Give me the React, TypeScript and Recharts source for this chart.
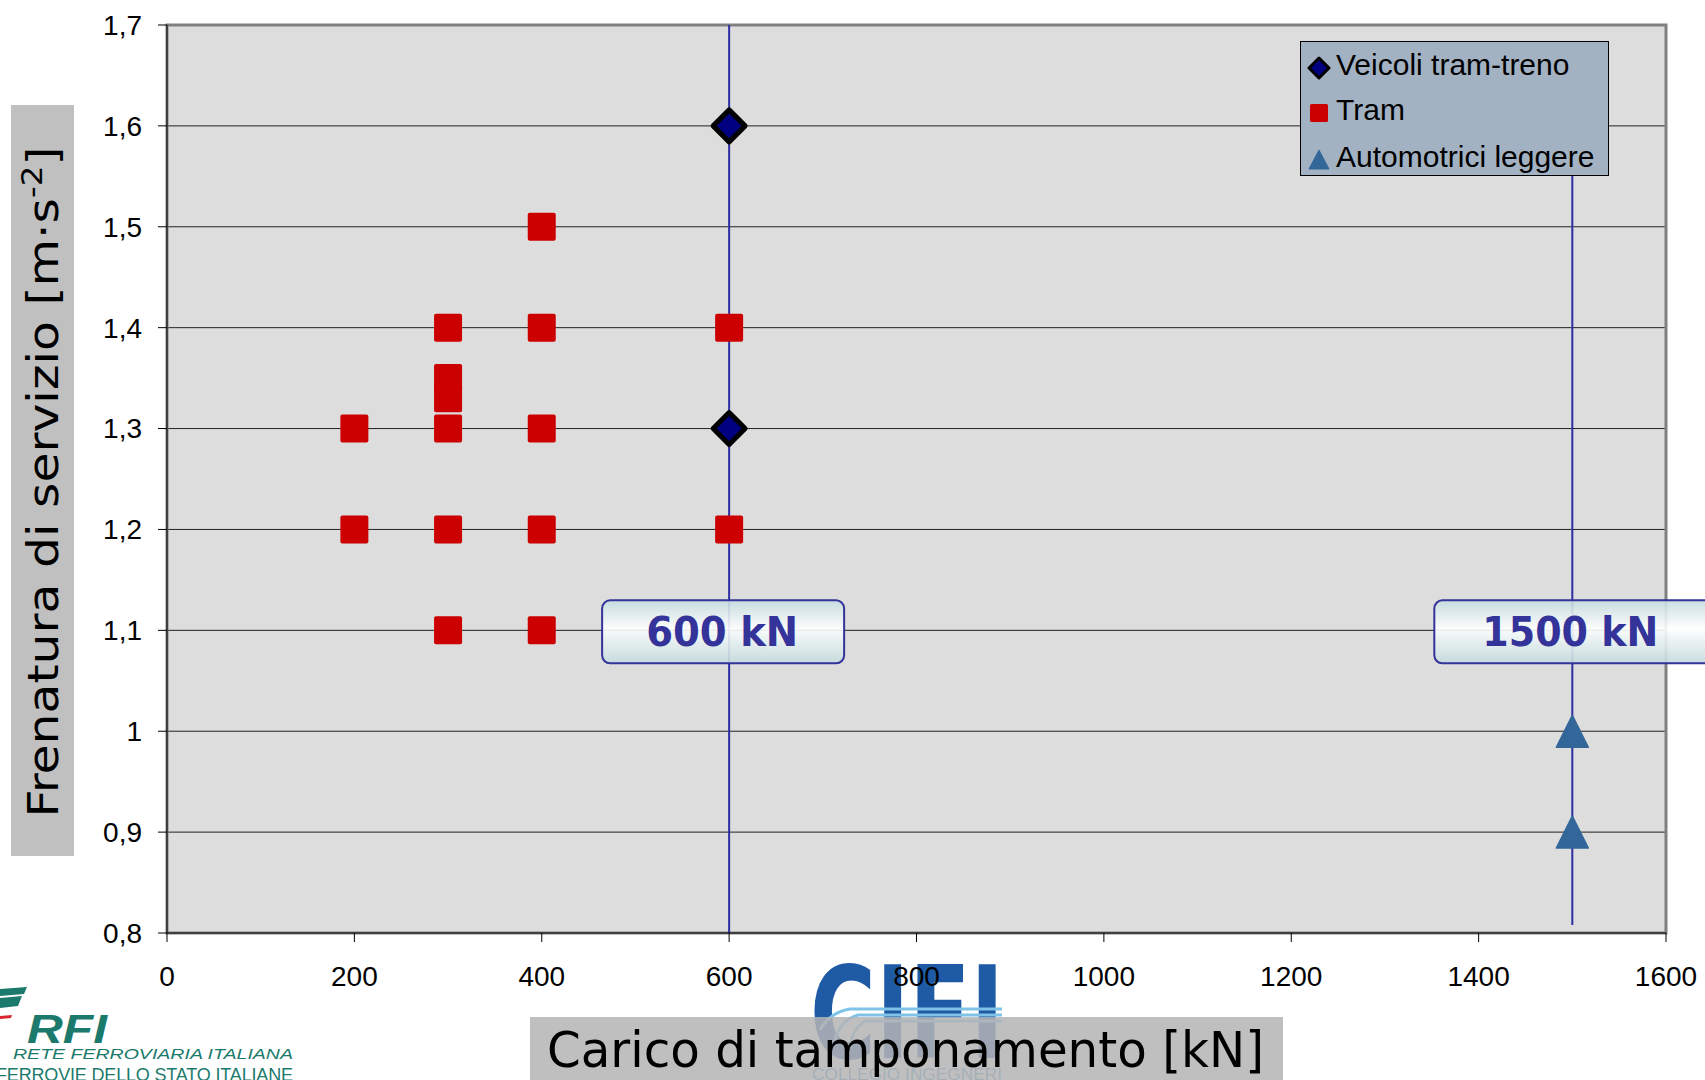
import React from 'react';
import {
  ScatterChart,
  Scatter,
  XAxis,
  YAxis,
  CartesianGrid,
  ReferenceLine,
  ReferenceDot,
  ReferenceArea,
  Legend,
} from 'recharts';

// ---------- data ----------
const tramTreno = [
  { x: 600, y: 1.6 },
  { x: 600, y: 1.3 },
];
const tram = [
  { x: 200, y: 1.3 },
  { x: 200, y: 1.2 },
  { x: 300, y: 1.4 },
  { x: 300, y: 1.35 },
  { x: 300, y: 1.33 },
  { x: 300, y: 1.3 },
  { x: 300, y: 1.2 },
  { x: 300, y: 1.1 },
  { x: 400, y: 1.5 },
  { x: 400, y: 1.4 },
  { x: 400, y: 1.3 },
  { x: 400, y: 1.2 },
  { x: 400, y: 1.1 },
  { x: 600, y: 1.4 },
  { x: 600, y: 1.2 },
];
const automotrici = [
  { x: 1500, y: 1.0 },
  { x: 1500, y: 0.9 },
];
const xTicks = [0, 200, 400, 600, 800, 1000, 1200, 1400, 1600];
const yTicks = [0.8, 0.9, 1.0, 1.1, 1.2, 1.3, 1.4, 1.5, 1.6, 1.7];
const limitLines = [600, 1500];
const limitLabelY = 1.1;
const limitLabelTexts = ['600 kN', '1500 kN'];
const seriesNames = ['Veicoli tram-treno', 'Tram', 'Automotrici leggere'];
const xTitle = 'Carico di tamponamento [kN]';
const yTitle = 'Frenatura di servizio [m·s';

// ---------- styles ----------
const FONT = '"Liberation Sans", Arial, sans-serif';
const labelStyles = [
  { dx: -127, w: 242, textDx: -7, textLen: 152 },
  { dx: -138, w: 300, textDx: -2, textLen: 176 },
];

const fmtY = (v: number) => String(Math.round(v * 10) / 10).replace('.', ',');

const SquareShape = (p: any) => (
  <rect x={p.cx - 14} y={p.cy - 14} width={28} height={28} rx={2} fill="#cc0000" />
);
const DiamondShape = (p: any) => (
  <polygon
    points={`${p.cx},${p.cy - 16} ${p.cx + 16},${p.cy} ${p.cx},${p.cy + 16} ${p.cx - 16},${p.cy}`}
    fill="#000080"
    stroke="#000"
    strokeWidth={5}
    strokeLinejoin="round"
  />
);
const TriangleShape = (p: any) => (
  <polygon
    points={`${p.cx},${p.cy - 16} ${p.cx + 16},${p.cy + 16} ${p.cx - 16},${p.cy + 16}`}
    fill="#336699"
    stroke="#336699"
    strokeWidth={1.5}
    strokeLinejoin="round"
  />
);

const makeLimitLabel = (i: number) => (p: any) => {
  const s = labelStyles[i];
  return (
    <g>
      <rect
        x={p.cx + s.dx}
        y={p.cy - 30}
        width={s.w}
        height={63}
        rx={8}
        fill="url(#lblGrad)"
        fillOpacity={0.9}
        stroke="#333399"
        strokeWidth={2}
      />
      <text
        x={p.cx + s.textDx}
        y={p.cy + 16}
        textAnchor="middle"
        fontFamily='"DejaVu Sans", sans-serif'
        fontWeight="bold"
        fontSize={40}
        fill="#333399"
        textLength={s.textLen}
        lengthAdjust="spacingAndGlyphs"
      >
        {limitLabelTexts[i]}
      </text>
    </g>
  );
};

const legendIcon = (i: number) => {
  if (i === 0)
    return (
      <svg width={24} height={24}>
        <polygon points="12,2 22,12 12,22 2,12" fill="#000080" stroke="#000" strokeWidth={3} strokeLinejoin="round" />
      </svg>
    );
  if (i === 1)
    return (
      <svg width={24} height={24}>
        <rect x={3} y={3} width={18} height={18} rx={1.5} fill="#cc0000" />
      </svg>
    );
  return (
    <svg width={24} height={24}>
      <polygon points="12,2 22,21 2,21" fill="#336699" stroke="#336699" strokeLinejoin="round" />
    </svg>
  );
};

const LegendBox = () => (
  <div
    style={{
      width: 307,
      height: 133,
      background: '#a3b2c2',
      border: '1px solid #000',
      fontFamily: FONT,
      fontSize: 30,
      color: '#000',
      boxSizing: 'content-box',
    }}
  >
    {seriesNames.map((n, i) => (
      <div
        key={n}
        style={{
          position: 'absolute',
          left: 7,
          top: [7, 52, 99][i],
          height: 34,
          display: 'flex',
          alignItems: 'center',
          whiteSpace: 'nowrap',
        }}
      >
        <span style={{ width: 24, height: 24, display: 'inline-block' }}>{legendIcon(i)}</span>
        <span style={{ marginLeft: 5 }}>{n}</span>
      </div>
    ))}
  </div>
);

export default function App() {
  return (
    <div style={{ position: 'relative', width: 1705, height: 1080, overflow: 'hidden', background: '#fff' }}>
      <style>{`html,body{margin:0;padding:0;overflow:hidden;background:#fff}`}</style>
      {/* logos (behind) */}
      <svg width={1705} height={1080} style={{ position: 'absolute', left: 0, top: 0 }}>
        <defs>
          <linearGradient id="lblGrad" x1="0" y1="0" x2="0" y2="1">
            <stop offset="0%" stopColor="#c6dcdf" />
            <stop offset="45%" stopColor="#ffffff" />
            <stop offset="55%" stopColor="#f2f8f8" />
            <stop offset="100%" stopColor="#c4dadd" />
          </linearGradient>
        </defs>
        {/* RFI */}
        <polygon points="0,989 27,987 24,994 0,996" fill="#1b7a6c" />
        <polygon points="0,998 22,996 18,1006 0,1008" fill="#1b7a6c" />
        <polygon points="0,1016 12,1015 11,1018 0,1019" fill="#d9262e" />
        <text x={27} y={1043} fontFamily={FONT} fontStyle="italic" fontWeight="bold" fontSize={40} fill="#1b7a6c" textLength={80} lengthAdjust="spacingAndGlyphs">RFI</text>
        <text x={13} y={1059} fontFamily={FONT} fontStyle="italic" fontSize={15} fill="#1b7a6c" textLength={280} lengthAdjust="spacingAndGlyphs">RETE FERROVIARIA ITALIANA</text>
        <text x={-4} y={1081} fontFamily={FONT} fontSize={18} fill="#1b7a6c" textLength={297} lengthAdjust="spacing">FERROVIE DELLO STATO ITALIANE</text>
        {/* CIFI */}
        <text x={810} y={1058} fontFamily='"DejaVu Sans", sans-serif' fontWeight="bold" fontSize={128} fill="#1f5aa5" textLength={194} lengthAdjust="spacingAndGlyphs">CIFI</text>
        <path d="M 1002 1009 L 850 1009 Q 830 1012 820 1030" stroke="#7fc4e8" strokeWidth={3} fill="none" />
        <path d="M 1002 1015 L 858 1015 Q 840 1020 835 1040" stroke="#7fc4e8" strokeWidth={3} fill="none" />
        <path d="M 1002 1021 L 866 1021 Q 852 1028 850 1048" stroke="#7fc4e8" strokeWidth={3} fill="none" />
        <text x={812} y={1080} fontFamily={FONT} fontSize={17} fill="#4f93cc" textLength={190} lengthAdjust="spacingAndGlyphs">COLLEGIO INGEGNERI</text>
      </svg>

      <div style={{ position: 'absolute', left: 0, top: 0 }}>
        <ScatterChart width={1705} height={1080} margin={{ top: 25, right: 39, bottom: 87, left: 87 }}>
          <CartesianGrid fill="#dddddd" vertical={false} stroke="#222" strokeWidth={1} />
          <ReferenceArea x1={0} x2={1600} y1={0.8} y2={1.7} fill="none" stroke="#808080" strokeWidth={3} />
          <XAxis
            type="number"
            dataKey="x"
            domain={[0, 1600]}
            ticks={xTicks}
            height={60}
            tickSize={9}
            tickMargin={24}
            axisLine={{ stroke: '#000' }}
            tickLine={{ stroke: '#000' }}
            tick={{ fill: '#000', fontSize: 28, fontFamily: FONT }}
            allowDataOverflow
          />
          <YAxis
            type="number"
            dataKey="y"
            domain={[0.8, 1.7]}
            ticks={yTicks}
            width={80}
            tickSize={9}
            tickMargin={16}
            tickFormatter={fmtY}
            axisLine={{ stroke: '#000' }}
            tickLine={{ stroke: '#000' }}
            tick={{ fill: '#000', fontSize: 28, fontFamily: FONT }}
            allowDataOverflow
          />
          <Legend
            layout="vertical"
            align="center"
            verticalAlign="middle"
            content={() => <LegendBox />}
            wrapperStyle={{ left: 1300, top: 41, width: 309, height: 135 }}
          />
          <Scatter name={seriesNames[0]} data={tramTreno} shape={DiamondShape} isAnimationActive={false} />
          <Scatter name={seriesNames[1]} data={tram} shape={SquareShape} isAnimationActive={false} />
          <Scatter name={seriesNames[2]} data={automotrici} shape={TriangleShape} isAnimationActive={false} />
          <ReferenceLine x={limitLines[0]} stroke="#2e2ea3" strokeWidth={2} />
          <ReferenceLine
            segment={[
              { x: limitLines[1], y: 1.555 },
              { x: limitLines[1], y: 0.808 },
            ]}
            stroke="#2e2ea3"
            strokeWidth={2}
          />
          {limitLines.map((lx, i) => (
            <ReferenceDot key={lx} x={lx} y={limitLabelY} shape={makeLimitLabel(i)} />
          ))}
        </ScatterChart>
      </div>

      {/* axis titles */}
      <svg width={1705} height={1080} style={{ position: 'absolute', left: 0, top: 0, pointerEvents: 'none' }}>
        <rect x={11} y={105} width={63} height={751} fill="#c0c0c0" />
        <text
          transform="translate(58,482) rotate(-90)"
          textAnchor="middle"
          fontFamily='"DejaVu Sans Condensed", "DejaVu Sans", sans-serif'
          fontSize={42}
          fill="#000"
          textLength={671}
          lengthAdjust="spacingAndGlyphs"
        >
          {yTitle}
          <tspan dy={-16} fontSize={28}>-2</tspan>
          <tspan dy={16}>]</tspan>
        </text>
        <rect x={530} y={1017} width={753} height={70} fill="#b4b4b4" fillOpacity={0.85} />
        <text
          x={547}
          y={1067}
          fontFamily='"DejaVu Sans", sans-serif'
          fontSize={50}
          fill="#000"
          textLength={717}
          lengthAdjust="spacingAndGlyphs"
        >
          {xTitle}
        </text>
      </svg>
    </div>
  );
}
